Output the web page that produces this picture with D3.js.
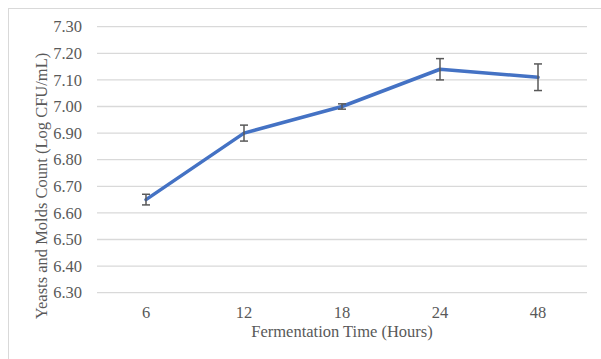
<!DOCTYPE html>
<html>
<head>
  <meta charset="UTF-8" />
  <title>Yeasts and Molds Count</title>
  <script src="https://d3js.org/d3.v7.min.js"></script>
  <style>
    body { margin: 0; background: #fff; }
    text { font-family: "Liberation Serif", "Times New Roman", serif; fill: #595959; font-size: 16.5px; }
  </style>
</head>
<body>
  <svg id="chart" width="601" height="359"></svg>
  <script>
    // data
    const hours = ["6", "12", "18", "24", "48"];
    const counts = [6.65, 6.90, 7.00, 7.14, 7.11];
    const errors = [0.02, 0.03, 0.01, 0.04, 0.05];
    const yTicks = [6.30, 6.40, 6.50, 6.60, 6.70, 6.80, 6.90, 7.00, 7.10, 7.20, 7.30];

    const svg = d3.select("#chart");
    const plotLeft = 97, plotRight = 587, plotTop = 26.7, plotBottom = 292.7;

    // chart frame (only top and left edges show in the crop)
    svg.append("rect")
      .attr("x", 8.5).attr("y", 8.5)
      .attr("width", 620).attr("height", 380)
      .attr("fill", "none")
      .attr("stroke", "#d9d9d9");

    const x = d3.scaleBand().domain(hours).range([plotLeft, plotRight]);
    const y = d3.scaleLinear().domain([6.30, 7.30]).range([plotBottom, plotTop]);

    // gridlines
    svg.append("g")
      .selectAll("line")
      .data(yTicks)
      .join("line")
      .attr("x1", plotLeft).attr("x2", plotRight)
      .attr("y1", d => y(d)).attr("y2", d => y(d))
      .attr("stroke", "#d9d9d9")
      .attr("stroke-width", 1.3);

    // y tick labels
    svg.append("g")
      .selectAll("text")
      .data(yTicks)
      .join("text")
      .attr("x", 82)
      .attr("y", d => y(d))
      .attr("dy", "0.35em")
      .attr("text-anchor", "end")
      .text(d => d.toFixed(2));

    // x tick labels
    svg.append("g")
      .selectAll("text")
      .data(hours)
      .join("text")
      .attr("x", d => x(d) + x.bandwidth() / 2)
      .attr("y", 318)
      .attr("text-anchor", "middle")
      .text(d => d);

    // axis titles
    svg.append("text")
      .attr("x", 342)
      .attr("y", 337)
      .attr("text-anchor", "middle")
      .text("Fermentation Time (Hours)");

    svg.append("text")
      .attr("transform", "translate(47,186) rotate(-90)")
      .attr("text-anchor", "middle")
      .text("Yeasts and Molds Count (Log CFU/mL)");

    const pts = hours.map((h, i) => ({ h, v: counts[i], e: errors[i] }));
    const cx = d => x(d.h) + x.bandwidth() / 2;

    // line
    svg.append("path")
      .datum(pts)
      .attr("fill", "none")
      .attr("stroke", "#4472c4")
      .attr("stroke-width", 3.5)
      .attr("stroke-linejoin", "round")
      .attr("stroke-linecap", "round")
      .attr("d", d3.line().x(cx).y(d => y(d.v)));

    // error bars
    const eb = svg.append("g")
      .attr("stroke", "#595959")
      .attr("stroke-width", 1.5)
      .selectAll("g")
      .data(pts)
      .join("g");
    eb.append("line")
      .attr("x1", cx).attr("x2", cx)
      .attr("y1", d => y(d.v - d.e)).attr("y2", d => y(d.v + d.e));
    eb.append("line")
      .attr("x1", d => cx(d) - 4).attr("x2", d => cx(d) + 4)
      .attr("y1", d => y(d.v + d.e)).attr("y2", d => y(d.v + d.e));
    eb.append("line")
      .attr("x1", d => cx(d) - 4).attr("x2", d => cx(d) + 4)
      .attr("y1", d => y(d.v - d.e)).attr("y2", d => y(d.v - d.e));
  </script>
</body>
</html>
